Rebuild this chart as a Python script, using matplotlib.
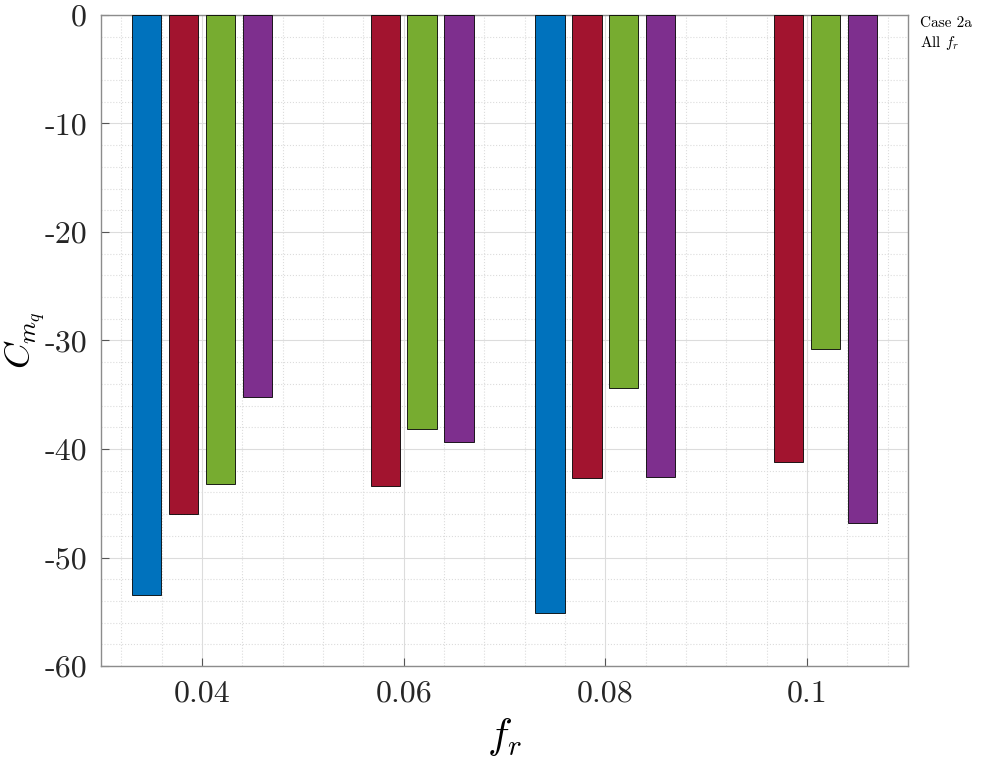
import numpy as np
import matplotlib.pyplot as plt
from matplotlib.ticker import MultipleLocator, FuncFormatter

plt.rcParams['font.family'] = 'serif'
plt.rcParams['font.serif'] = ['cmr10']
plt.rcParams['mathtext.fontset'] = 'cm'
plt.rcParams['axes.unicode_minus'] = False

# data: C_mq for each reduced frequency, four cases (NaN = no bar)
fr = np.array([0.04, 0.06, 0.08, 0.1])
case_blue = [-53.5, np.nan, -55.1, np.nan]
case_red = [-46.0, -43.4, -42.7, -41.2]
case_green = [-43.2, -38.2, -34.4, -30.8]
case_purple = [-35.2, -39.4, -42.6, -46.8]

series = [case_blue, case_red, case_green, case_purple]
colors = ['#0072BD', '#A2142F', '#77AC30', '#7E2F8E']

fig = plt.figure(figsize=(9.81, 7.57), dpi=100)
ax = fig.add_axes([0.103, 0.1202, 0.8226, 0.86])

step = 0.00366
width = 0.0029
for i, (vals, c) in enumerate(zip(series, colors)):
    ax.bar(fr + (i - 1.5) * step, vals, width=width, color=c,
           edgecolor='black', linewidth=0.6, zorder=3)

ax.set_xlim(0.03, 0.11)
ax.set_ylim(-60, 0)
ax.set_xticks(fr)
ax.set_yticks(np.arange(-60, 1, 10))
ax.xaxis.set_minor_locator(MultipleLocator(0.004))
ax.yaxis.set_minor_locator(MultipleLocator(2))
ax.xaxis.set_major_formatter(FuncFormatter(lambda v, p: '%g' % round(v, 3)))
ax.yaxis.set_major_formatter(FuncFormatter(lambda v, p: '%d' % v))

ax.grid(True, which='major', color='#dcdcdc', linewidth=0.8, zorder=0)
ax.grid(True, which='minor', color='#dcdcdc', linestyle=':', linewidth=0.8, zorder=0)
ax.set_axisbelow(True)

ax.tick_params(which='major', direction='in', length=6, labelsize=23,
               color='#555555', labelcolor='#262626', pad=10)
ax.tick_params(which='minor', length=0)
for s in ax.spines.values():
    s.set_color('#8c8c8c')
    s.set_linewidth(1.0)

ax.set_xlabel(r'$f_r$', fontsize=30, labelpad=6)
ax.set_ylabel(r'$C_{m_q}$', fontsize=26)
ax.yaxis.set_label_coords(-0.066, 0.5)

fig.text(0.938, 0.978, 'Case 2a\nAll $f_r$', fontsize=11, va='top', ha='left',
         linespacing=1.3)

fig.savefig('out.png', dpi=100)
